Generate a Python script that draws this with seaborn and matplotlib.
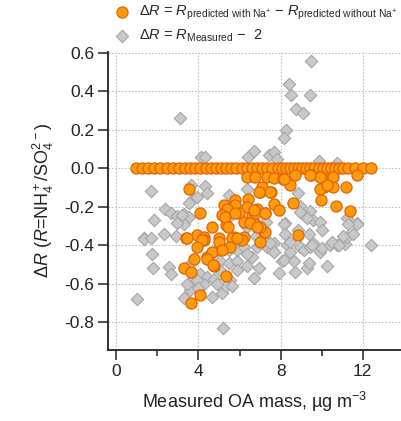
import numpy as np
import pandas as pd
import matplotlib
matplotlib.use("Agg")
import matplotlib.pyplot as plt
import seaborn as sns
from matplotlib.ticker import MultipleLocator

# ---------------- data ----------------
gray_x = [9.49, 8.42, 8.50, 9.44, 8.76, 9.09, 3.10, 8.24, 8.15,
          4.15, 4.34, 6.42, 6.69, 7.42, 7.66, 7.82, 9.85, 10.74,
          1.71, 3.62, 4.30, 4.43, 3.75, 3.94, 3.53, 2.35, 2.65, 2.94, 3.29, 3.53, 1.84, 3.29,
          6.37, 5.48, 8.87, 8.96, 9.44, 9.20, 9.60, 9.93, 8.23, 11.71, 11.22, 1.35, 2.32,
          3.21, 2.97, 1.35, 1.67, 2.89, 1.76, 1.80, 2.56, 2.65, 1.00, 3.29, 3.58, 4.67, 5.16,
          5.20, 4.10, 4.43, 4.26, 4.75, 5.07, 5.48, 5.07, 5.56, 5.32, 5.64, 5.88, 6.37, 6.61,
          6.69, 6.93, 5.48, 5.88, 6.20, 7.34, 7.58, 7.66, 7.17, 7.90, 8.07, 8.15, 8.63, 8.71,
          9.28, 9.36, 10.25, 8.31, 8.47, 8.96, 9.12, 9.44, 9.60, 9.93, 10.00, 10.41, 10.74,
          11.14, 11.22, 11.54, 11.71, 12.39, 8.15, 8.23, 8.47, 8.87, 9.36, 8.96, 9.28, 10.00,
          10.50, 11.06, 11.30, 7.50, 7.66, 6.85, 6.37, 5.88, 3.62, 3.78, 3.94, 4.59, 5.64,
          4.91, 6.04, 5.48, 6.37, 10.82, 9.52, 4.90, 4.00, 3.45, 6.80, 7.30]
gray_y = [0.56, 0.44, 0.38, 0.38, 0.31, 0.29, 0.26, 0.20, 0.16,
          0.06, 0.06, 0.06, 0.09, 0.07, 0.085, 0.05, 0.04, 0.03,
          -0.12, -0.085, -0.09, -0.13, -0.16, -0.15, -0.18, -0.21, -0.235, -0.25, -0.24, -0.255, -0.27, -0.29,
          -0.105, -0.14, -0.13, -0.195, -0.22, -0.25, -0.27, -0.28, -0.285, -0.285, -0.26, -0.36, -0.34,
          -0.245, -0.285, -0.37, -0.365, -0.35, -0.445, -0.52, -0.515, -0.55, -0.68, -0.675, -0.635, -0.67, -0.65,
          -0.83, -0.55, -0.565, -0.60, -0.575, -0.48, -0.49, -0.53, -0.58, -0.61, -0.61, -0.48, -0.51, -0.46,
          -0.57, -0.52, -0.425, -0.425, -0.41, -0.41, -0.425, -0.39, -0.375, -0.545, -0.48, -0.475, -0.48, -0.54,
          -0.52, -0.495, -0.51, -0.40, -0.435, -0.41, -0.425, -0.41, -0.39, -0.435, -0.415, -0.40, -0.40,
          -0.395, -0.355, -0.34, -0.29, -0.40, -0.29, -0.34, -0.385, -0.32, -0.34, -0.225, -0.26, -0.32,
          -0.385, -0.35, -0.29, -0.39, -0.435, -0.41, -0.445, -0.53, -0.495, -0.575, -0.58, -0.48, -0.365,
          -0.425, -0.375, -0.255, -0.305, -0.40, -0.40, -0.60, -0.62, -0.60, -0.35, -0.28]

orange_x = [0.95, 1.25, 1.55, 1.85, 2.15, 2.45, 2.75, 3.05, 3.35, 3.60, 3.85, 4.10, 4.35, 4.60,
            4.85, 5.10, 5.35, 5.60, 5.85, 6.10, 6.35, 6.60, 6.85, 7.10, 7.35, 7.60, 7.85, 8.05,
            8.25, 8.45, 8.65, 8.85, 9.05, 9.25, 9.45, 9.65, 9.85, 10.05, 10.25, 10.45, 10.65,
            10.85, 11.05, 11.30, 11.60, 12.00, 12.40,
            6.37, 6.77, 7.34, 7.66, 8.11, 8.71, 9.47, 8.47, 10.00, 10.57, 11.71, 10.09, 10.57,
            11.19, 9.98, 10.69, 11.38, 8.58, 3.53, 4.07, 6.98, 7.10, 7.53, 7.66, 7.90, 6.42,
            5.80, 5.80, 5.23, 5.40, 6.37, 6.85, 7.26, 5.96, 5.16, 6.61, 6.20, 6.69, 4.67, 5.32,
            7.17, 8.87, 3.42, 3.94, 4.26, 5.72, 6.20, 3.44, 4.25, 4.98, 5.30, 5.46, 5.79, 6.76,
            6.11, 5.62, 4.99, 5.56, 7.01, 7.26, 4.18, 3.94, 4.43, 3.78, 3.29, 3.62, 4.75, 5.32,
            4.07, 3.65, 4.65, 5.16, 5.88, 6.53, 7.01, 9.93, 10.25, 9.93, 9.44, 8.15, 7.50, 6.93,
            7.23, 6.69, 6.85, 4.41, 4.73]
orange_y = [0.0] * 47 + [
            -0.045, -0.045, -0.045, -0.05, -0.055, -0.035, -0.035, -0.085, -0.05, -0.045, -0.035, -0.095, -0.095,
            -0.095, -0.165, -0.195, -0.22, -0.178, -0.105, -0.235, -0.125, -0.095, -0.125, -0.185, -0.218, -0.158,
            -0.166, -0.19, -0.192, -0.21, -0.20, -0.21, -0.235, -0.235, -0.245, -0.248, -0.28, -0.287, -0.305, -0.296,
            -0.33, -0.348, -0.36, -0.348, -0.357, -0.357, -0.357, -0.365, -0.374, -0.365, -0.253, -0.305, -0.235, -0.235,
            -0.374, -0.365, -0.383, -0.41, -0.383, -0.331, -0.374, -0.41, -0.46, -0.474, -0.516, -0.54, -0.51, -0.56,
            -0.66, -0.703, -0.435, -0.426, -0.365, -0.287, -0.305, -0.106, -0.088, -0.045, -0.036, -0.054, -0.123, -0.123,
            -0.235, -0.218, -0.305, -0.47, -0.505]

label_orange = (r"$\Delta R$ = $R_{\mathrm{predicted\ with\ Na^{+}}}$ $-$ "
                r"$R_{\mathrm{predicted\ without\ Na^{+}}}$")
label_gray = r"$\Delta R$ = $R_{\mathrm{Measured}}$ $-$  2"

x_ticks = [0, 4, 8, 12]
y_ticks = [-0.8, -0.6, -0.4, -0.2, 0.0, 0.2, 0.4, 0.6]

gray_df = pd.DataFrame({"x": gray_x, "y": gray_y})
orange_df = pd.DataFrame({"x": orange_x, "y": orange_y})

# ---------------- style ----------------
sns.set_style("white")
plt.rcParams["font.family"] = ["Liberation Sans", "DejaVu Sans"]
plt.rcParams["mathtext.fontset"] = "custom"
plt.rcParams["mathtext.rm"] = "Liberation Sans"
plt.rcParams["mathtext.it"] = "Liberation Sans:italic"
plt.rcParams["mathtext.bf"] = "Liberation Sans:bold"

fig = plt.figure(figsize=(4.01, 4.21), dpi=100)
ax = fig.add_axes([108 / 401, 1 - 350 / 421, 1 - 108 / 401, (350 - 52) / 421])

sns.scatterplot(data=gray_df, x="x", y="y", ax=ax, marker="D", s=40,
                color="#C8C8C8", edgecolor="#A5A5A5", linewidth=0.8,
                label=label_gray, zorder=3)
sns.scatterplot(data=orange_df, x="x", y="y", ax=ax, marker="o", s=64,
                color="#FF9A0A", edgecolor="#E0640A", linewidth=0.9,
                label=label_orange, zorder=4)

ax.set_xlim(-0.4, 13.86)
ax.set_ylim(-0.945, 0.605)
ax.set_xticks(x_ticks)
ax.set_xticklabels([str(t) for t in x_ticks])
ax.xaxis.set_minor_locator(MultipleLocator(2))
ax.set_yticks(y_ticks)
ax.set_yticklabels([f"{t:.1f}" for t in y_ticks])

ax.grid(True, which="major", color="#C0C0C0", linestyle=(0, (1.5, 1.5)), linewidth=0.8)
ax.set_axisbelow(True)

for side in ["top", "right"]:
    ax.spines[side].set_visible(False)
for side in ["left", "bottom"]:
    ax.spines[side].set_color("#222222")
    ax.spines[side].set_linewidth(1.3)

ax.tick_params(axis="both", which="major", direction="out", length=7, width=1.1,
               color="#222222", labelsize=12.5, labelcolor="#222222", pad=3,
               left=True, bottom=True)
ax.tick_params(axis="x", which="minor", direction="out", length=4, width=1.1,
               color="#222222", bottom=True)

ax.set_xlabel(r"Measured OA mass, µg m$^{-3}$", fontsize=13, color="#222222", labelpad=8)
ax.set_ylabel(r"$\Delta R$ ($R$=NH$_4^+$/SO$_4^{2-}$)", fontsize=13, color="#222222", labelpad=6)

ax.legend_.remove()
h, l = ax.get_legend_handles_labels()
fig.legend([h[1], h[0]], [l[1], l[0]], loc="upper left", bbox_to_anchor=(110 / 401, 0.997),
           frameon=False, fontsize=10.5, handletextpad=0.6, labelspacing=0.35,
           borderaxespad=0.0, borderpad=0.2, handlelength=1.2)

fig.savefig("out.png", dpi=100)
